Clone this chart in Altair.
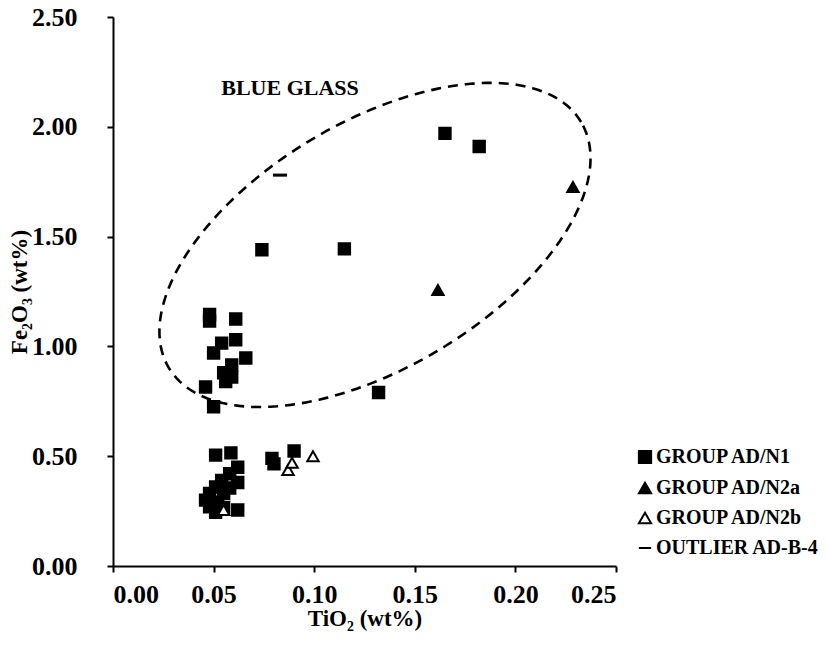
import math
import altair as alt
import pandas as pd

# ---------------- data ----------------
n1_x = [0.165, 0.182, 0.074, 0.115, 0.132,
        0.048, 0.048, 0.061, 0.054, 0.061, 0.050, 0.066, 0.059, 0.055, 0.059, 0.056, 0.046, 0.050,
        0.051, 0.0586, 0.062, 0.058, 0.054, 0.062, 0.051, 0.058, 0.048, 0.055, 0.046, 0.052,
        0.048, 0.055, 0.062, 0.051, 0.079, 0.080, 0.090]
n1_y = [1.97, 1.91, 1.44, 1.444, 0.79,
        1.145, 1.115, 1.125, 1.015, 1.03, 0.97, 0.947, 0.915, 0.88, 0.86, 0.84, 0.815, 0.725,
        0.505, 0.515, 0.45, 0.42, 0.39, 0.38, 0.36, 0.355, 0.33, 0.33, 0.30, 0.29,
        0.27, 0.265, 0.255, 0.245, 0.49, 0.465, 0.524]
n2a_x = [0.2286, 0.1615]
n2a_y = [1.726, 1.257]
n2b_x = [0.087, 0.089, 0.0994, 0.055]
n2b_y = [0.437, 0.47, 0.50, 0.255]
out_x = [0.083]
out_y = [1.78]

groups = ["GROUP AD/N1", "GROUP AD/N2a", "GROUP AD/N2b", "OUTLIER AD-B-4"]
x_ticks = [0.00, 0.05, 0.10, 0.15, 0.20, 0.25]
y_ticks = [0.00, 0.50, 1.00, 1.50, 2.00, 2.50]

# annotation ellipse ("BLUE GLASS" field), centre in data units, axes in screen pixels
ell_cx, ell_cy = 0.1302, 1.462
ell_a_px, ell_b_px, ell_angle_deg = 240, 123, 30.8
label_x, label_y = 0.088, 2.177

W, H = 503, 549
px_per_x = W / 0.25
px_per_y = H / 2.5

rows = []
for name, xs, ys in [(groups[0], n1_x, n1_y), (groups[1], n2a_x, n2a_y),
                     (groups[2], n2b_x, n2b_y), (groups[3], out_x, out_y)]:
    for x, y in zip(xs, ys):
        rows.append({"TiO2": x, "Fe2O3": y, "group": name})
pts = pd.DataFrame(rows)

th = math.radians(ell_angle_deg)
ell = []
n = 181
for i in range(n):
    t = 2 * math.pi * i / (n - 1)
    dx = ell_a_px * math.cos(t) * math.cos(th) - ell_b_px * math.sin(t) * math.sin(th)
    dy = ell_a_px * math.cos(t) * math.sin(th) + ell_b_px * math.sin(t) * math.cos(th)
    ell.append({"x": ell_cx + dx / px_per_x, "y": ell_cy + dy / px_per_y, "o": i})
ell_df = pd.DataFrame(ell)

FONT = "Liberation Serif"

xscale = alt.Scale(domain=[0, 0.25], nice=False, zero=False)
yscale = alt.Scale(domain=[0, 2.5], nice=False, zero=False)

xaxis = alt.Axis(values=x_ticks, format=".2f", title="TiO₂ (wt%)", titlePadding=0, labelPadding=9)
yaxis = alt.Axis(values=y_ticks, format=".2f", title="Fe₂O₃ (wt%)", titlePadding=0, labelPadding=30)

ellipse = alt.Chart(ell_df).mark_line(
    color="black", strokeWidth=2.6, strokeDash=[10, 7]
).encode(
    x=alt.X("x:Q", scale=xscale, axis=xaxis),
    y=alt.Y("y:Q", scale=yscale, axis=yaxis),
    order="o:Q",
)

label = alt.Chart(pd.DataFrame({"x": [label_x], "y": [label_y], "t": ["BLUE GLASS"]})).mark_text(
    font=FONT, fontWeight="bold", fontSize=22, color="black"
).encode(x=alt.X("x:Q", scale=xscale), y=alt.Y("y:Q", scale=yscale), text="t:N")

leg = alt.Legend(title=None, orient="none", legendX=522, legendY=430,
                 labelFont=FONT, labelFontWeight="bold", labelFontSize=20, labelColor="black",
                 symbolSize=150, symbolStrokeWidth=2,
                 rowPadding=10, labelOffset=1, labelLimit=300)

points = alt.Chart(pts).mark_point(filled=True, strokeWidth=2, size=130, opacity=1).encode(
    x=alt.X("TiO2:Q", scale=xscale),
    y=alt.Y("Fe2O3:Q", scale=yscale),
    shape=alt.Shape("group:N", scale=alt.Scale(domain=groups,
                    range=["square", "triangle-up", "triangle-up", "stroke"]), legend=leg),
    fill=alt.Fill("group:N", scale=alt.Scale(domain=groups,
                  range=["black", "black", "white", "black"]), legend=leg),
    stroke=alt.Stroke("group:N", scale=alt.Scale(domain=groups,
                      range=["black", "black", "black", "black"]), legend=leg),
)

# thicker dash for the outlier sample, drawn over its point
outlier = alt.Chart(pd.DataFrame({"TiO2": out_x, "Fe2O3": out_y})).mark_point(
    shape="stroke", stroke="black", strokeWidth=3, size=200, opacity=1
).encode(x=alt.X("TiO2:Q", scale=xscale), y=alt.Y("Fe2O3:Q", scale=yscale))

chart = alt.layer(ellipse, label, points, outlier).properties(
    width=W, height=H,
    autosize=alt.AutoSizeParams(type="none"),
    padding={"left": 105, "top": 9, "right": 205, "bottom": 74},
).configure_view(stroke=None).configure_axis(
    grid=False, domainColor="black", domainWidth=2, tickColor="black", tickWidth=2, tickSize=6,
    labelFont=FONT, labelFontWeight="bold", labelFontSize=26, labelColor="black",
    titleFont=FONT, titleFontWeight="bold", titleFontSize=23, titleColor="black",
)

chart.save("out.html", embed_options={"renderer": "svg", "actions": False})
